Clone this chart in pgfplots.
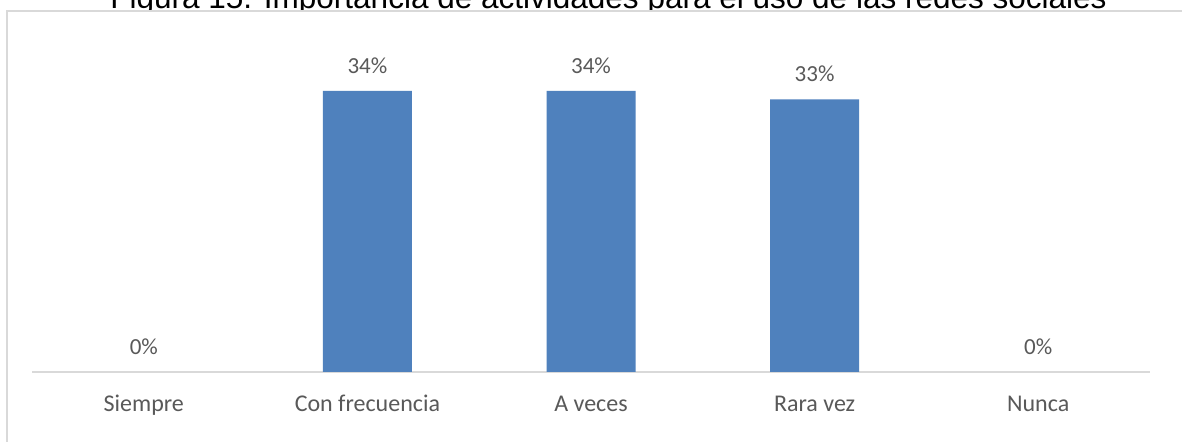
\documentclass[border=0pt]{standalone}
\usepackage{pgfplots}
\pgfplotsset{compat=1.18}
\usepackage{fontspec}
\setmainfont{Carlito}
\newfontfamily\titlefont{Liberation Sans}
\definecolor{barblue}{HTML}{4F81BD}
\definecolor{txtgray}{HTML}{595959}
\definecolor{linegray}{HTML}{D9D9D9}
\begin{document}
\begin{tikzpicture}
% title, partly cut by the top of the page
\node[anchor=base, inner sep=0pt] at (304.25bp,216.5bp)
  {\titlefont\fontsize{15.76bp}{19bp}\selectfont Figura 15. Importancia de actividades para el uso de las redes sociales};
% chart area
\filldraw[fill=white, draw=linegray, line width=0.8bp] (3.5bp,-10bp) rectangle (620bp,215.5bp);
\begin{axis}[
    at={(16bp,35bp)}, anchor=south west,
    scale only axis,
    width=559bp, height=165.3bp,
    xmin=-0.5, xmax=4.5,
    ymin=0, ymax=40,
    axis x line*=bottom,
    axis y line=none,
    x axis line style={draw=linegray, line width=0.8bp, -},
    xtick={0,1,2,3,4},
    xticklabels={Siempre, Con frecuencia, A veces, Rara vez, Nunca},
    major tick length=0pt,
    xtick style={draw=none},
    xticklabel style={anchor=base, yshift=-20bp, inner sep=0pt, text=txtgray, font=\fontsize{12bp}{14bp}\selectfont},
    ybar,
    bar width=44.5bp,
    bar shift=0pt,
    clip=false,
    nodes near coords={\pgfmathprintnumber[assume math mode=true]{\pgfplotspointmeta}\%},
    every node near coord/.append style={inner sep=0pt, yshift=8.5bp, text=txtgray, font=\fontsize{11.5bp}{14bp}\selectfont},
]
% bars with a value
\addplot[fill=barblue, draw=none] coordinates {
    (1, 34)
    (2, 34)
    (3, 33)
};
% zero values: label only
\addplot[fill=none, draw=none] coordinates {
    (0, 0)
    (4, 0)
};
\end{axis}
\pgfresetboundingbox
\useasboundingbox (0,0) rectangle (591bp,221bp);
\end{tikzpicture}
\end{document}
